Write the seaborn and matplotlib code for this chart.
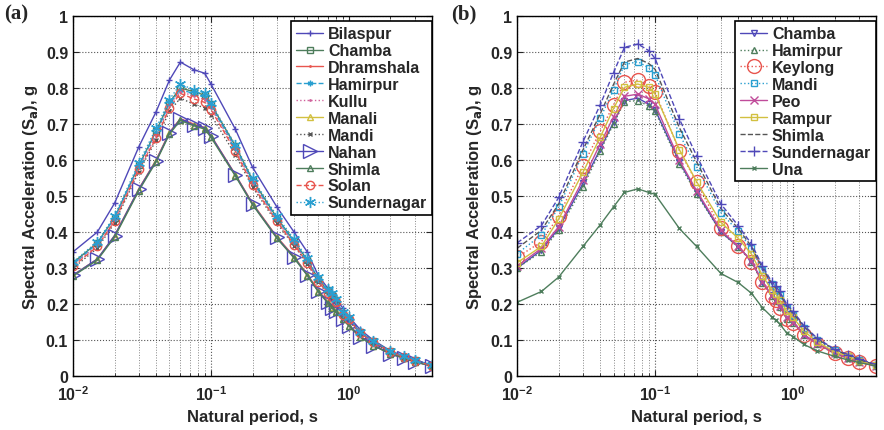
import numpy as np
import pandas as pd
import seaborn as sns
import matplotlib
matplotlib.use("Agg")
import matplotlib.pyplot as plt
from matplotlib.ticker import LogLocator, FuncFormatter, MultipleLocator

# periods (s)
period = [0.01, 0.015, 0.02, 0.03, 0.04, 0.05, 0.06, 0.075, 0.09, 0.1, 0.15, 0.2, 0.3, 0.4,
          0.5, 0.6, 0.7, 0.75, 0.8, 0.9, 1.0, 1.2, 1.5, 2.0, 2.5, 3.0, 4.0]

# panel (a) spectra
bilaspur = [0.345, 0.40, 0.48, 0.637, 0.734, 0.822, 0.872, 0.851, 0.841, 0.811, 0.686, 0.58, 0.47, 0.40,
            0.344, 0.279, 0.245, 0.23, 0.215, 0.19, 0.165, 0.13, 0.10, 0.07, 0.055, 0.045, 0.03]
chamba_a = [0.315, 0.37, 0.44, 0.585, 0.68, 0.76, 0.80, 0.79, 0.78, 0.755, 0.64, 0.545, 0.44, 0.375,
            0.322, 0.27, 0.238, 0.225, 0.21, 0.175, 0.16, 0.122, 0.097, 0.069, 0.054, 0.044, 0.03]
dhramshala = [0.28, 0.325, 0.39, 0.52, 0.60, 0.677, 0.715, 0.70, 0.69, 0.668, 0.56, 0.48, 0.387, 0.332,
              0.282, 0.238, 0.207, 0.193, 0.182, 0.162, 0.142, 0.112, 0.087, 0.063, 0.05, 0.04, 0.028]
hamirpur_a = [0.31, 0.368, 0.44, 0.585, 0.675, 0.757, 0.795, 0.785, 0.775, 0.75, 0.635, 0.54, 0.437, 0.372,
              0.32, 0.268, 0.236, 0.224, 0.208, 0.174, 0.16, 0.121, 0.096, 0.068, 0.054, 0.044, 0.03]
kullu = [0.31, 0.362, 0.433, 0.578, 0.668, 0.75, 0.79, 0.778, 0.768, 0.745, 0.63, 0.535, 0.432, 0.368,
         0.317, 0.265, 0.233, 0.221, 0.206, 0.172, 0.158, 0.12, 0.095, 0.068, 0.053, 0.043, 0.029]
manali = [0.28, 0.325, 0.388, 0.518, 0.598, 0.675, 0.712, 0.697, 0.688, 0.665, 0.558, 0.478, 0.385, 0.33,
          0.28, 0.236, 0.205, 0.191, 0.18, 0.16, 0.14, 0.11, 0.085, 0.062, 0.05, 0.04, 0.028]
mandi_a = [0.30, 0.355, 0.425, 0.568, 0.655, 0.735, 0.772, 0.755, 0.745, 0.725, 0.615, 0.525, 0.425, 0.362,
           0.312, 0.26, 0.23, 0.218, 0.203, 0.17, 0.155, 0.118, 0.093, 0.066, 0.052, 0.042, 0.029]
nahan = [0.28, 0.325, 0.39, 0.519, 0.598, 0.675, 0.714, 0.697, 0.69, 0.667, 0.559, 0.478, 0.385, 0.33,
         0.28, 0.235, 0.205, 0.19, 0.18, 0.16, 0.14, 0.11, 0.085, 0.062, 0.05, 0.04, 0.028]
shimla_a = [0.278, 0.322, 0.386, 0.515, 0.595, 0.672, 0.71, 0.695, 0.686, 0.663, 0.556, 0.476, 0.383, 0.328,
            0.279, 0.234, 0.204, 0.19, 0.179, 0.159, 0.139, 0.109, 0.085, 0.062, 0.05, 0.04, 0.028]
solan = [0.305, 0.36, 0.43, 0.575, 0.66, 0.745, 0.785, 0.77, 0.76, 0.74, 0.625, 0.53, 0.43, 0.365,
         0.315, 0.262, 0.232, 0.22, 0.205, 0.17, 0.158, 0.12, 0.095, 0.068, 0.053, 0.043, 0.029]
sundernagar_a = [0.317, 0.373, 0.445, 0.592, 0.688, 0.768, 0.811, 0.795, 0.786, 0.758, 0.642, 0.549, 0.445, 0.38,
                 0.327, 0.274, 0.242, 0.23, 0.215, 0.177, 0.163, 0.123, 0.098, 0.07, 0.055, 0.045, 0.03]

# panel (b) spectra
chamba_b = [0.30, 0.35, 0.41, 0.535, 0.63, 0.705, 0.765, 0.772, 0.755, 0.74, 0.595, 0.51, 0.40, 0.36,
            0.32, 0.26, 0.225, 0.21, 0.195, 0.163, 0.15, 0.115, 0.09, 0.065, 0.05, 0.04, 0.028]
hamirpur_b = [0.30, 0.345, 0.405, 0.525, 0.625, 0.70, 0.762, 0.765, 0.75, 0.735, 0.59, 0.505, 0.40, 0.358,
              0.318, 0.258, 0.222, 0.208, 0.193, 0.16, 0.148, 0.113, 0.088, 0.063, 0.049, 0.039, 0.028]
keylong = [0.33, 0.373, 0.445, 0.584, 0.68, 0.753, 0.816, 0.822, 0.805, 0.788, 0.626, 0.538, 0.41, 0.362,
           0.318, 0.26, 0.223, 0.21, 0.19, 0.16, 0.148, 0.115, 0.088, 0.063, 0.05, 0.04, 0.028]
mandi_b = [0.34, 0.392, 0.469, 0.617, 0.716, 0.795, 0.865, 0.873, 0.856, 0.837, 0.672, 0.581, 0.454, 0.402,
           0.355, 0.294, 0.255, 0.24, 0.225, 0.19, 0.17, 0.135, 0.10, 0.072, 0.057, 0.045, 0.03]
peo = [0.305, 0.355, 0.415, 0.545, 0.645, 0.72, 0.777, 0.783, 0.77, 0.755, 0.60, 0.515, 0.405, 0.36,
       0.32, 0.262, 0.225, 0.21, 0.195, 0.163, 0.15, 0.115, 0.09, 0.065, 0.05, 0.04, 0.028]
rampur = [0.315, 0.36, 0.436, 0.566, 0.663, 0.743, 0.802, 0.811, 0.802, 0.783, 0.629, 0.54, 0.427, 0.383,
          0.339, 0.279, 0.24, 0.228, 0.212, 0.18, 0.163, 0.125, 0.095, 0.068, 0.055, 0.043, 0.03]
shimla_b = [0.355, 0.405, 0.478, 0.628, 0.728, 0.81, 0.872, 0.882, 0.868, 0.852, 0.69, 0.595, 0.465, 0.41,
            0.36, 0.3, 0.258, 0.245, 0.23, 0.195, 0.175, 0.138, 0.103, 0.074, 0.058, 0.046, 0.031]
sundernagar_b = [0.37, 0.418, 0.496, 0.651, 0.753, 0.843, 0.913, 0.922, 0.904, 0.882, 0.714, 0.612, 0.478, 0.418,
                 0.367, 0.306, 0.262, 0.25, 0.235, 0.2, 0.18, 0.14, 0.105, 0.075, 0.06, 0.048, 0.032]
una = [0.205, 0.235, 0.275, 0.36, 0.42, 0.47, 0.51, 0.52, 0.51, 0.505, 0.41, 0.36, 0.285, 0.26,
       0.23, 0.19, 0.165, 0.155, 0.145, 0.12, 0.11, 0.088, 0.07, 0.055, 0.045, 0.038, 0.028]

BLUE = "#4f48b8"
GREEN = "#4e7d5c"
RED = "#e8554e"
CYAN = "#2a9fd0"
PINK = "#d0609a"
YELLOW = "#d2c040"
GRAY = "#555555"
MAG = "#c04c9a"
STAR = (6, 2, 0)  # matlab style asterisk

# (label, values, color, linestyle, marker, markersize)
panel_a = [
    ("Bilaspur", bilaspur, BLUE, "-", "+", 5),
    ("Chamba", chamba_a, GREEN, "-", "s", 4),
    ("Dhramshala", dhramshala, RED, "-", ".", 2),
    ("Hamirpur", hamirpur_a, CYAN, "--", STAR, 4),
    ("Kullu", kullu, PINK, ":", ".", 2),
    ("Manali", manali, YELLOW, "-", "^", 5),
    ("Mandi", mandi_a, GRAY, ":", "x", 3),
    ("Nahan", nahan, BLUE, "-", ">", 10),
    ("Shimla", shimla_a, GREEN, "-", "^", 5),
    ("Solan", solan, RED, "--", "o", 6),
    ("Sundernagar", sundernagar_a, CYAN, ":", STAR, 8),
]
panel_b = [
    ("Chamba", chamba_b, BLUE, "-", "v", 5),
    ("Hamirpur", hamirpur_b, GREEN, ":", "^", 5),
    ("Keylong", keylong, RED, ":", "o", 10),
    ("Mandi", mandi_b, CYAN, ":", "s", 5),
    ("Peo", peo, MAG, "-", "x", 6),
    ("Rampur", rampur, YELLOW, "-", "s", 4),
    ("Shimla", shimla_b, GRAY, "--", "", 0),
    ("Sundernagar", sundernagar_b, BLUE, "--", "+", 7),
    ("Una", una, GREEN, "-", "x", 3),
]

sns.set_style("ticks")
plt.rcParams["font.family"] = ["Liberation Sans", "DejaVu Sans"]
plt.rcParams["font.weight"] = "bold"
plt.rcParams["axes.labelweight"] = "bold"

fig = plt.figure(figsize=(8.84, 4.31), dpi=100)
ax_a = fig.add_axes([0.0826, 0.125, 0.4061, 0.8356])
ax_b = fig.add_axes([0.585, 0.125, 0.406, 0.8356])

for ax, series in [(ax_a, panel_a), (ax_b, panel_b)]:
    for name, vals, col, ls, mk, ms in series:
        df = pd.DataFrame({"T": period, "Sa": vals})
        sns.lineplot(data=df, x="T", y="Sa", ax=ax, color=col, linestyle=ls,
                     marker=mk if mk else None, markersize=ms, markerfacecolor="none",
                     markeredgecolor=col, markeredgewidth=1.0, linewidth=1.0,
                     label=name, estimator=None, sort=False)
    ax.set_xscale("log")
    ax.set_xlim(0.01, 4)
    ax.set_ylim(0, 1)
    ax.yaxis.set_major_locator(MultipleLocator(0.1))
    ax.yaxis.set_major_formatter(FuncFormatter(lambda v, p: "%g" % round(v, 1)))
    ax.xaxis.set_major_locator(LogLocator(base=10))
    ax.xaxis.set_minor_locator(LogLocator(base=10, subs=np.arange(2, 10)))
    ax.grid(True, which="major", axis="both", linestyle=":", color="#555555", linewidth=0.8)
    ax.grid(True, which="minor", axis="x", linestyle=":", color="#888888", linewidth=0.7)
    ax.tick_params(which="both", direction="in", top=True, right=True, labelsize=11.5)
    ax.tick_params(which="major", length=4)
    ax.tick_params(which="minor", length=2)
    ax.tick_params(axis="x", pad=6)
    for sp in ax.spines.values():
        sp.set_color("black")
        sp.set_linewidth(1.0)
        sp.set_visible(True)
    ax.set_xlabel("Natural period, s", fontsize=12, fontweight="bold")
    ax.set_ylabel("Spectral Acceleration (S$_\\mathbf{a}$), g", fontsize=12, fontweight="bold")
    for lab in ax.get_xticklabels() + ax.get_yticklabels():
        lab.set_fontweight("bold")
    leg = ax.legend(loc="upper right", bbox_to_anchor=(1.0, 0.985), borderaxespad=0,
                    frameon=True, fancybox=False, edgecolor="black", framealpha=1,
                    prop={"weight": "bold", "size": 11.5}, labelspacing=0.12,
                    handlelength=1.7, handletextpad=0.3, borderpad=0.3)
    leg.get_frame().set_linewidth(1.2)

fig.text(0.005, 0.955, "(a)", fontsize=15, fontweight="bold", family="Liberation Serif")
fig.text(0.51, 0.955, "(b)", fontsize=15, fontweight="bold", family="Liberation Serif")

fig.savefig("out.png", dpi=100)
